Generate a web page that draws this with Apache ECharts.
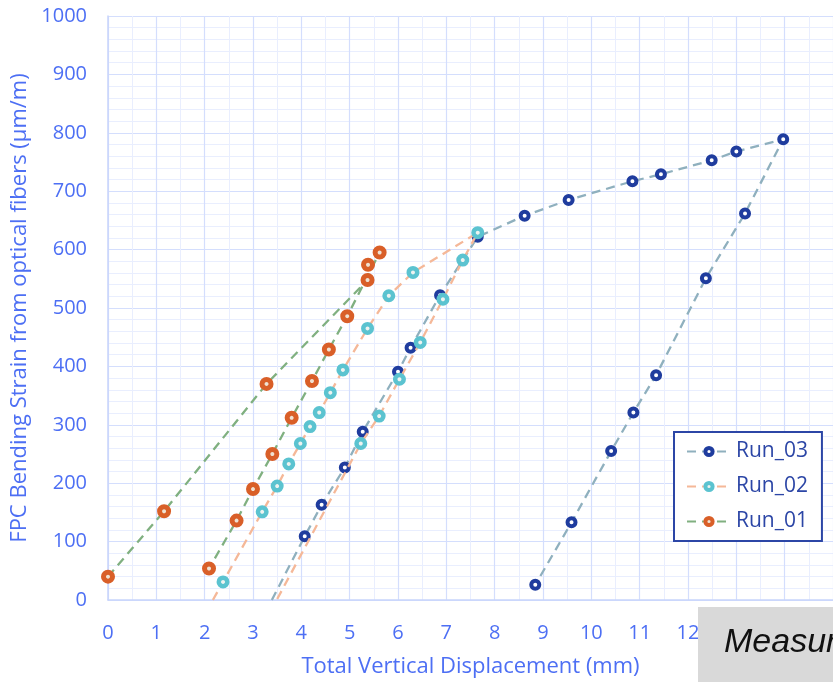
<!DOCTYPE html>
<html>
<head>
<meta charset="utf-8">
<script src="https://cdn.jsdelivr.net/npm/echarts@6/dist/echarts.min.js"></script>
<style>
  html, body { margin: 0; padding: 0; background: #ffffff; }
  #chart { width: 833px; height: 682px; }
</style>
</head>
<body>
<div id="chart"></div>
<script>
// Total vertical displacement (mm) and FPC bending strain (µm/m) per run
const run03Disp   = [4.07, 4.42, 4.90, 5.27, 6.00, 6.26, 6.87, 7.65, 8.62, 9.53, 10.85, 11.44, 12.49, 13.00, 13.97, 13.18, 12.37, 11.34, 10.87, 10.41, 9.59, 8.84];
const run03Strain = [109, 163, 227, 288, 391, 432, 522, 622, 658, 685, 717, 729, 753, 768, 789, 662, 551, 385, 321, 255, 133, 26];
const run03Start  = [3.39, 0];

const run02Disp   = [2.38, 3.19, 3.50, 3.74, 3.98, 4.18, 4.37, 4.60, 4.86, 5.37, 5.81, 6.31, 7.65, 7.34, 6.93, 6.46, 6.03, 5.61, 5.23];
const run02Strain = [31, 151, 195, 233, 268, 297, 321, 355, 394, 465, 521, 561, 629, 582, 515, 441, 378, 315, 268];
const run02Start  = [2.17, 0];
const run02End    = [3.49, 0];

const run01Disp   = [0.00, 1.16, 3.28, 5.37, 5.38, 5.62, 4.95, 4.57, 4.22, 3.80, 3.40, 3.00, 2.66, 2.09];
const run01Strain = [40, 152, 370, 548, 574, 595, 486, 429, 375, 312, 250, 190, 136, 54];

const seriesNames = ['Run_03', 'Run_02', 'Run_01'];
const xTitle = 'Total Vertical Displacement (mm)';
const yTitle = 'FPC Bending Strain from optical fibers (\u03bcm/m)';
const boxText = 'Measured';

function pairs(xs, ys) {
  return xs.map((x, i) => [x, ys[i]]);
}
function bare(pt) {
  return { value: pt, symbol: 'none' };
}

const blue = '#4d6ff4';
const font = 'Open Sans';

const run03Data = [bare(run03Start)].concat(pairs(run03Disp, run03Strain));
const run02Data = [bare(run02Start)].concat(pairs(run02Disp, run02Strain), [bare(run02End)]);
const run01Data = pairs(run01Disp, run01Strain);

const chart = echarts.init(document.getElementById('chart'), null, { renderer: 'canvas' });

chart.setOption({
  backgroundColor: '#ffffff',
  animation: false,
  grid: { left: 108, right: 0, top: 16, bottom: 82, containLabel: false, outerBoundsMode: 'none' },
  xAxis: {
    type: 'value',
    min: 0, max: 15, interval: 1,
    name: xTitle,
    nameLocation: 'middle',
    nameGap: 56,
    nameTextStyle: { color: blue, fontSize: 22, fontFamily: font },
    axisLine: { show: true, lineStyle: { color: '#c8d5fb', width: 1.5 } },
    axisTick: { show: false },
    axisLabel: { color: blue, fontSize: 20, fontFamily: font, margin: 23 },
    splitLine: { show: true, lineStyle: { color: '#d4defd', width: 1.2 } },
    minorTick: { show: false, splitNumber: 2 },
    minorSplitLine: { show: true, lineStyle: { color: '#e9eefe', width: 1 } }
  },
  yAxis: {
    type: 'value',
    min: 0, max: 1000, interval: 100,
    name: yTitle,
    nameLocation: 'middle',
    nameGap: 76,
    nameTextStyle: { color: blue, fontSize: 22, fontFamily: font },
    axisLine: { show: true, lineStyle: { color: '#c8d5fb', width: 1.5 } },
    axisTick: { show: false },
    axisLabel: { color: blue, fontSize: 20, fontFamily: font, margin: 21, formatter: v => String(v) },
    splitLine: { show: true, lineStyle: { color: '#d4defd', width: 1.2 } },
    minorTick: { show: false, splitNumber: 5 },
    minorSplitLine: { show: true, lineStyle: { color: '#e9eefe', width: 1 } }
  },
  legend: {
    data: seriesNames.map(n => ({ name: n })),
    orient: 'vertical',
    left: 674,
    top: 432,
    backgroundColor: '#ffffff',
    borderColor: '#2c46a6',
    borderWidth: 2,
    padding: [8, 14, 8, 12],
    itemWidth: 44,
    itemHeight: 9,
    itemGap: 12,
    itemStyle: { borderWidth: 4 },
    textStyle: { color: '#2c46a6', fontSize: 21, fontFamily: font, lineHeight: 23 }
  },
  series: [
    {
      name: seriesNames[0],
      type: 'line',
      data: run03Data,
      symbol: 'circle',
      symbolSize: 8,
      itemStyle: { color: '#ffffff', borderColor: '#1f3c9e', borderWidth: 4 },
      lineStyle: { color: '#8fb0be', width: 2.3, type: [9, 6] },
      z: 2
    },
    {
      name: seriesNames[1],
      type: 'line',
      data: run02Data,
      symbol: 'circle',
      symbolSize: 8.5,
      itemStyle: { color: '#eef3f0', borderColor: '#5bc3d0', borderWidth: 4.5 },
      lineStyle: { color: '#f5b898', width: 2.3, type: [9, 6] },
      z: 3
    },
    {
      name: seriesNames[2],
      type: 'line',
      data: run01Data,
      symbol: 'circle',
      symbolSize: 9,
      itemStyle: { color: '#efe2d2', borderColor: '#d95f28', borderWidth: 5 },
      lineStyle: { color: '#80b080', width: 2.3, type: [9, 6] },
      z: 4
    }
  ],
  graphic: [
    {
      type: 'rect',
      left: 698, top: 607,
      shape: { width: 160, height: 90 },
      style: { fill: '#d9d9d9' },
      z: 100
    },
    {
      type: 'text',
      left: 724, top: 626,
      style: {
        text: boxText,
        fill: '#111111',
        font: 'italic 34px "Liberation Sans", Arial, sans-serif'
      },
      z: 101
    }
  ]
});
</script>
</body>
</html>
